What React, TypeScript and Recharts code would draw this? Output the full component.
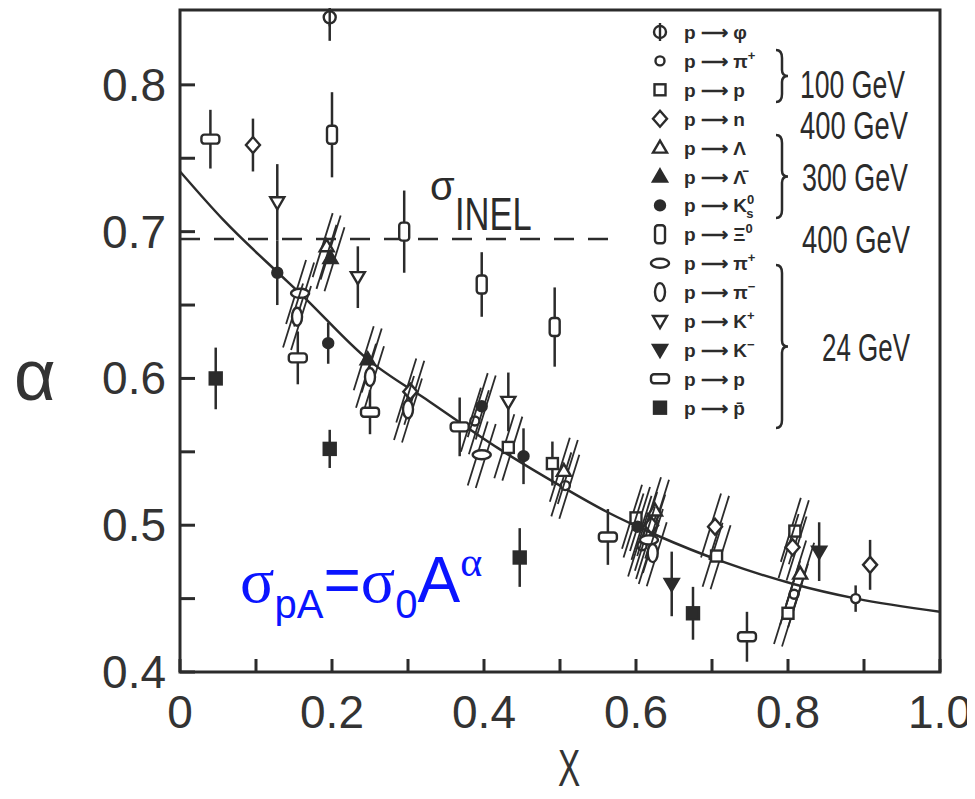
import { ComposedChart, Scatter, Line, XAxis, YAxis, ErrorBar, ReferenceLine, ReferenceArea, Legend } from "recharts";

const INK = "#2b2b2b";

// points: x, alpha, vertical error (0 = slanted error bars in the original)
const phi100 = [{ x: 0.197, y: 0.846, e: 0.016 }];
const pip100 = [
  { x: 0.889, y: 0.45, e: 0.009 },
  { x: 0.388, y: 0.571, e: 0 },
  { x: 0.507, y: 0.527, e: 0 },
  { x: 0.608, y: 0.486, e: 0 },
  { x: 0.808, y: 0.453, e: 0 },
];
const p100 = [
  { x: 0.809, y: 0.496, e: 0 },
  { x: 0.706, y: 0.479, e: 0 },
  { x: 0.49, y: 0.542, e: 0.015 },
  { x: 0.6, y: 0.505, e: 0 },
  { x: 0.432, y: 0.553, e: 0 },
  { x: 0.8, y: 0.44, e: 0 },
];
const n400 = [
  { x: 0.096, y: 0.759, e: 0.018 },
  { x: 0.704, y: 0.499, e: 0 },
  { x: 0.908, y: 0.473, e: 0.017 },
  { x: 0.806, y: 0.485, e: 0 },
  { x: 0.303, y: 0.591, e: 0 },
  { x: 0.62, y: 0.5, e: 0 },
];
const lam300 = [
  { x: 0.193, y: 0.69, e: 0 },
  { x: 0.816, y: 0.467, e: 0 },
  { x: 0.625, y: 0.51, e: 0 },
  { x: 0.505, y: 0.537, e: 0 },
];
const lamBar300 = [
  { x: 0.198, y: 0.682, e: 0 },
  { x: 0.247, y: 0.613, e: 0 },
];
const k0s300 = [
  { x: 0.128, y: 0.672, e: 0.022 },
  { x: 0.195, y: 0.624, e: 0.014 },
  { x: 0.397, y: 0.581, e: 0 },
  { x: 0.452, y: 0.547, e: 0.019 },
  { x: 0.602, y: 0.499, e: 0 },
];
const xi400 = [
  { x: 0.2, y: 0.766, e: 0.029 },
  { x: 0.295, y: 0.7, e: 0.028 },
  { x: 0.397, y: 0.664, e: 0.022 },
  { x: 0.493, y: 0.635, e: 0.027 },
];
const pip24 = [
  { x: 0.158, y: 0.658, e: 0 },
  { x: 0.397, y: 0.548, e: 0 },
  { x: 0.617, y: 0.49, e: 0 },
];
const pim24 = [
  { x: 0.154, y: 0.642, e: 0 },
  { x: 0.25, y: 0.601, e: 0 },
  { x: 0.622, y: 0.481, e: 0 },
  { x: 0.3, y: 0.579, e: 0 },
];
const kp24 = [
  { x: 0.128, y: 0.72, e: 0.026 },
  { x: 0.234, y: 0.669, e: 0.021 },
  { x: 0.432, y: 0.584, e: 0.02 },
];
const km24 = [
  { x: 0.647, y: 0.46, e: 0.022 },
  { x: 0.841, y: 0.482, e: 0.02 },
];
const p24 = [
  { x: 0.04, y: 0.763, e: 0.02 },
  { x: 0.155, y: 0.614, e: 0.018 },
  { x: 0.25, y: 0.577, e: 0.015 },
  { x: 0.368, y: 0.567, e: 0.02 },
  { x: 0.563, y: 0.492, e: 0.019 },
  { x: 0.746, y: 0.424, e: 0.017 },
];
const pbar24 = [
  { x: 0.047, y: 0.6, e: 0.021 },
  { x: 0.197, y: 0.552, e: 0.013 },
  { x: 0.447, y: 0.478, e: 0.02 },
  { x: 0.675, y: 0.44, e: 0.018 },
];

// fitted curve
const curveX = [0, 0.057, 0.129, 0.158, 0.247, 0.329, 0.42, 0.5, 0.562, 0.628, 0.715, 0.807, 0.89, 1];
const curveY = [0.741, 0.708, 0.672, 0.658, 0.613, 0.584, 0.552, 0.527, 0.509, 0.493, 0.475, 0.46, 0.45, 0.441];
const curve = curveX.map((x, i) => ({ x, y: curveY[i] }));

const sigmaInel = 0.695;
const yTicks = [0.4, 0.45, 0.5, 0.55, 0.6, 0.65, 0.7, 0.75, 0.8];
const xTicks = [0, 0.1, 0.2, 0.3, 0.4, 0.5, 0.6, 0.7, 0.8, 0.9, 1];

const series = [
  { name: "p→φ", data: phi100, kind: "phi" },
  { name: "p→π+ 100", data: pip100, kind: "circle" },
  { name: "p→p 100", data: p100, kind: "square" },
  { name: "p→n 400", data: n400, kind: "diamond" },
  { name: "p→Λ", data: lam300, kind: "tri" },
  { name: "p→Λbar", data: lamBar300, kind: "triF" },
  { name: "p→K0s", data: k0s300, kind: "dot" },
  { name: "p→Ξ0", data: xi400, kind: "tallRect" },
  { name: "p→π+ 24", data: pip24, kind: "ellH" },
  { name: "p→π- 24", data: pim24, kind: "ellV" },
  { name: "p→K+", data: kp24, kind: "triD" },
  { name: "p→K-", data: km24, kind: "triDF" },
  { name: "p→p 24", data: p24, kind: "wideRect" },
  { name: "p→pbar", data: pbar24, kind: "sqF" },
];

function Marker({ kind, cx, cy }: { kind: string; cx: number; cy: number }) {
  const st = { stroke: INK, strokeWidth: 2.4 };
  switch (kind) {
    case "phi":
      return (
        <g>
          <circle cx={cx} cy={cy} r={6} fill="#fff" {...st} />
          <line x1={cx} x2={cx} y1={cy - 9} y2={cy + 9} {...st} />
        </g>
      );
    case "circle":
      return <circle cx={cx} cy={cy} r={4.5} fill="#fff" {...st} />;
    case "square":
      return <rect x={cx - 5.5} y={cy - 5.5} width={11} height={11} fill="#fff" {...st} />;
    case "diamond":
      return <polygon points={`${cx},${cy - 8} ${cx + 7},${cy} ${cx},${cy + 8} ${cx - 7},${cy}`} fill="#fff" {...st} />;
    case "tri":
      return <polygon points={`${cx},${cy - 7} ${cx + 7},${cy + 5} ${cx - 7},${cy + 5}`} fill="#fff" {...st} />;
    case "triF":
      return <polygon points={`${cx},${cy - 7} ${cx + 7},${cy + 5} ${cx - 7},${cy + 5}`} fill={INK} {...st} />;
    case "dot":
      return <circle cx={cx} cy={cy} r={5} fill={INK} {...st} />;
    case "tallRect":
      return <rect x={cx - 5} y={cy - 9} width={10} height={18} rx={3} fill="#fff" {...st} />;
    case "ellH":
      return <ellipse cx={cx} cy={cy} rx={9} ry={4.5} fill="#fff" {...st} />;
    case "ellV":
      return <ellipse cx={cx} cy={cy} rx={5} ry={9} fill="#fff" {...st} />;
    case "triD":
      return <polygon points={`${cx - 7},${cy - 5} ${cx + 7},${cy - 5} ${cx},${cy + 7}`} fill="#fff" {...st} />;
    case "triDF":
      return <polygon points={`${cx - 7},${cy - 5} ${cx + 7},${cy - 5} ${cx},${cy + 7}`} fill={INK} {...st} />;
    case "wideRect":
      return <rect x={cx - 9} y={cy - 4.5} width={18} height={9} rx={3} fill="#fff" {...st} />;
    case "sqF":
      return <rect x={cx - 6} y={cy - 6} width={12} height={12} fill={INK} {...st} />;
    default:
      return null;
  }
}

function makeShape(kind: string) {
  return (props: any) => {
    const { cx, cy, payload } = props;
    if (cx == null || cy == null) return <g />;
    const slanted = payload && payload.e === 0;
    return (
      <g>
        {slanted &&
          [-4, 4].map((o) => (
            <line
              key={o}
              x1={cx - 10 + o}
              y1={cy + 32 + o * 0.3}
              x2={cx + 10 + o}
              y2={cy - 32 + o * 0.3}
              stroke={INK}
              strokeWidth={1.8}
            />
          ))}
        <Marker kind={kind} cx={cx} cy={cy} />
      </g>
    );
  };
}

const YTick = (props: any) => {
  const { x, y, payload } = props;
  const v = payload.value;
  const major = Math.abs(v * 10 - Math.round(v * 10)) < 1e-6;
  return (
    <g>
      <line x1={x} x2={x + 15} y1={y} y2={y} stroke={INK} strokeWidth={3} />
      {major && (
        <text x={x - 14} y={y + 16} textAnchor="end" fontSize={46} fontFamily="Liberation Sans" fill="#333">
          {v.toFixed(1)}
        </text>
      )}
    </g>
  );
};

const XTick = (props: any) => {
  const { x, y, payload } = props;
  const v = payload.value;
  const major = Math.round(v * 10) % 2 === 0;
  return (
    <g>
      <line x1={x} x2={x} y1={y} y2={y - 13} stroke={INK} strokeWidth={3} />
      {major && (
        <text x={x} y={y + 56} textAnchor="middle" fontSize={46} fontFamily="Liberation Sans" fill="#333">
          {v === 0 ? "0" : v.toFixed(1)}
        </text>
      )}
    </g>
  );
};

const sup = (s: string) => (
  <tspan dy={-8} fontSize={13}>
    {s}
  </tspan>
);

const legendRows: { kind: string; label: any }[] = [
  { kind: "phi", label: "φ" },
  { kind: "circle", label: <>π{sup("+")}</> },
  { kind: "square", label: "p" },
  { kind: "diamond", label: "n" },
  { kind: "tri", label: "Λ" },
  { kind: "triF", label: "Λ̄" },
  { kind: "dot", label: <>K{sup("0")}<tspan dx={-8} dy={14} fontSize={13}>s</tspan></> },
  { kind: "tallRect", label: <>Ξ{sup("0")}</> },
  { kind: "ellH", label: <>π{sup("+")}</> },
  { kind: "ellV", label: <>π{sup("−")}</> },
  { kind: "triD", label: <>K{sup("+")}</> },
  { kind: "triDF", label: <>K{sup("−")}</> },
  { kind: "wideRect", label: "p" },
  { kind: "sqF", label: "p̄" },
];

const groupLabels = [
  { text: "100 GeV", x: 160, y: 80, len: 105 },
  { text: "400 GeV", x: 160, y: 121, len: 108 },
  { text: "300 GeV", x: 162, y: 173, len: 106 },
  { text: "400 GeV", x: 162, y: 235, len: 108 },
  { text: "24 GeV", x: 182, y: 343, len: 88 },
];

const braces = [
  [32, 84],
  [117, 200],
  [247, 410],
];

function bracePath(x: number, y1: number, y2: number) {
  const m = (y1 + y2) / 2;
  return `M${x},${y1} Q${x + 6},${y1} ${x + 6},${y1 + 8} L${x + 6},${m - 6} Q${x + 6},${m} ${x + 12},${m} Q${x + 6},${m} ${x + 6},${m + 6} L${x + 6},${y2 - 8} Q${x + 6},${y2} ${x},${y2}`;
}

const renderLegend = () => (
  <svg width={335} height={430}>
    {legendRows.map((r, i) => {
      const y = 14 + i * 28.9;
      return (
        <g key={i}>
          <Marker kind={r.kind} cx={20} cy={y} />
          <text x={44} y={y + 7} fontSize={19} fontWeight="bold" fontFamily="Liberation Sans" fill={INK}>
            {"p ⟶ "}
            {r.label}
          </text>
        </g>
      );
    })}
    {braces.map(([a, b], i) => (
      <path key={i} d={bracePath(136, a, b)} fill="none" stroke={INK} strokeWidth={2.5} />
    ))}
    {groupLabels.map((g, i) => (
      <text key={i} x={g.x} y={g.y} fontSize={38} fontFamily="Liberation Sans" fill={INK} textLength={g.len} lengthAdjust="spacingAndGlyphs">
        {g.text}
      </text>
    ))}
  </svg>
);

export default function App() {
  return (
    <div style={{ position: "relative", width: 967, height: 791, background: "#fff" }}>
      <ComposedChart width={967} height={791} margin={{ top: 2, right: 35, bottom: 67, left: 0 }}>
        <XAxis
          type="number"
          dataKey="x"
          domain={[0, 1]}
          ticks={xTicks}
          interval={0}
          allowDataOverflow
          axisLine={false}
          tickLine={false}
          tickSize={0}
          tickMargin={0}
          height={60}
          tick={<XTick />}
        />
        <YAxis
          type="number"
          dataKey="y"
          domain={[0.4, 0.851]}
          ticks={yTicks}
          interval={0}
          allowDataOverflow
          axisLine={false}
          tickLine={false}
          tickSize={0}
          tickMargin={0}
          width={172}
          tick={<YTick />}
        />
        <ReferenceArea x1={0} x2={1} y1={0.4} y2={0.851} fill="none" fillOpacity={0} stroke={INK} strokeWidth={3} />
        <ReferenceLine
          segment={[
            { x: 0, y: sigmaInel },
            { x: 0.57, y: sigmaInel },
          ]}
          stroke={INK}
          strokeWidth={2.5}
          strokeDasharray="20 14"
        />
        <Line
          data={curve}
          dataKey="y"
          type="monotone"
          dot={false}
          activeDot={false}
          stroke={INK}
          strokeWidth={2.5}
          isAnimationActive={false}
          legendType="none"
        />
        {series.map((s) => (
          <Scatter key={s.name} name={s.name} data={s.data} dataKey="y" shape={makeShape(s.kind)} isAnimationActive={false}>
            <ErrorBar dataKey="e" direction="y" width={0} stroke={INK} strokeWidth={2.5} />
          </Scatter>
        ))}
        <Legend
          layout="vertical"
          align="center"
          verticalAlign="middle"
          content={renderLegend}
          wrapperStyle={{ left: 632, top: 10, width: 335, height: 430 }}
        />
      </ComposedChart>

      <div style={{ position: "absolute", left: 6, top: 331, fontSize: 72, lineHeight: 1, fontFamily: "Liberation Sans", color: "#333" }}>α</div>
      <div
        style={{
          position: "absolute",
          left: 550,
          top: 734,
          fontSize: 52,
          lineHeight: 1,
          fontFamily: "Liberation Sans",
          color: "#333",
          transform: "scaleX(0.64)",
          transformOrigin: "left",
        }}
      >
        X
      </div>
      <div style={{ position: "absolute", left: 422, top: 158, fontSize: 40, lineHeight: 1, fontFamily: "Liberation Sans", color: INK }}>σ</div>
      <div
        style={{
          position: "absolute",
          left: 447,
          top: 183,
          fontSize: 46,
          lineHeight: 1,
          fontFamily: "Liberation Sans",
          color: INK,
          transform: "scaleX(0.75)",
          transformOrigin: "left",
        }}
      >
        INEL
      </div>
      <div
        style={{
          position: "absolute",
          left: 232,
          top: 540,
          fontSize: 64,
          lineHeight: 1,
          fontFamily: "Liberation Sans",
          color: "#0a14ff",
          whiteSpace: "nowrap",
        }}
      >
        <span style={{ fontFamily: "Liberation Serif" }}>σ</span>
        <span style={{ fontSize: 40, position: "relative", top: 16 }}>pA</span>
        <span>=</span>
        <span style={{ fontFamily: "Liberation Serif" }}>σ</span>
        <span style={{ fontSize: 40, position: "relative", top: 16 }}>0</span>
        <span>A</span>
        <span style={{ fontSize: 42, fontFamily: "Liberation Serif", position: "relative", top: -26 }}>α</span>
      </div>
    </div>
  );
}
